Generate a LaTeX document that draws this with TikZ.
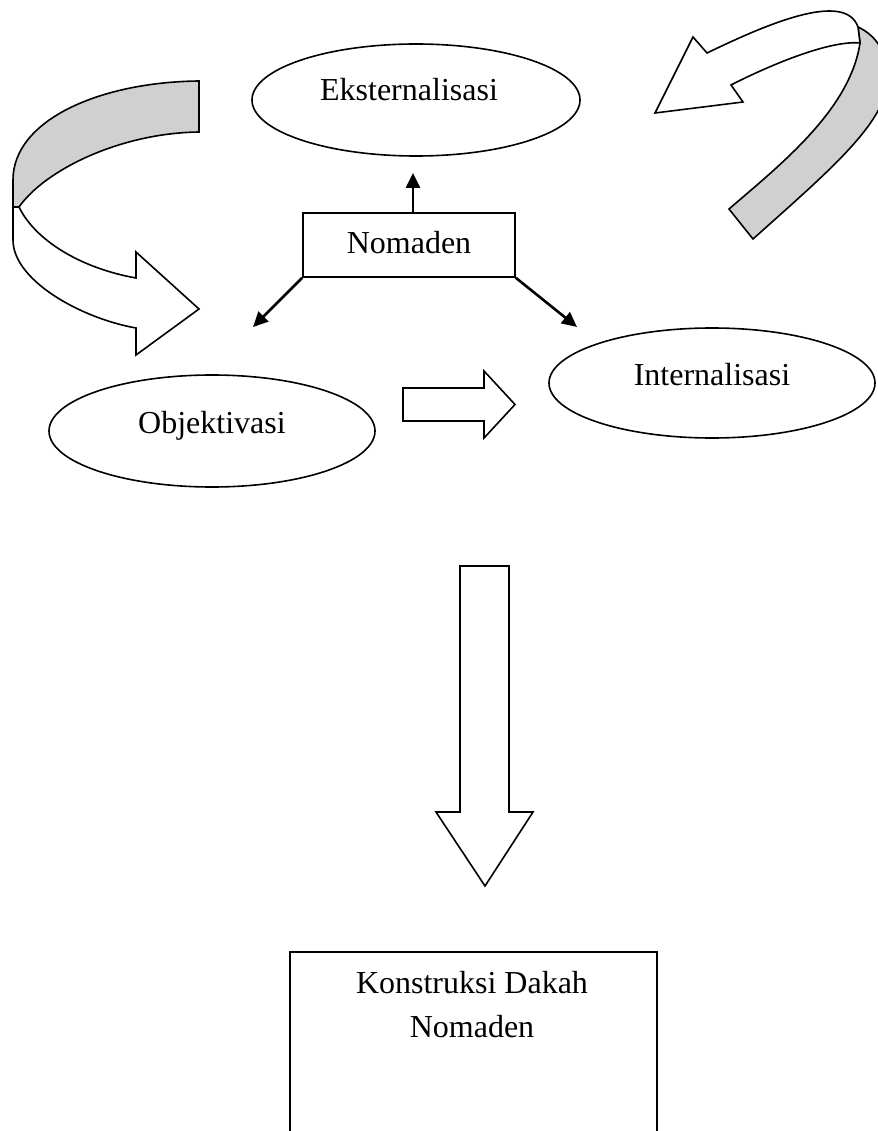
\documentclass[tikz,border=0pt]{standalone}
\usepackage{fontspec}
\setmainfont{Liberation Serif}
\usetikzlibrary{arrows.meta,shapes.geometric}
\definecolor{ink}{HTML}{000000}
\definecolor{soft}{HTML}{D0D0D0}
\tikzset{
  ell/.style={ellipse,draw=ink,line width=1.6pt,inner sep=0pt},
  box/.style={draw=ink,line width=1.6pt,inner sep=0pt,font=\fontsize{32}{44}\selectfont},
  plain/.style={align=center,inner sep=0pt,font=\fontsize{32}{44}\selectfont,text=ink},
  ar/.style={-{Triangle[length=15pt,width=14pt]},draw=ink,line width=2.6pt},
  blk/.style={draw=ink,line width=1.6pt,fill=white,line join=miter},
  rib/.style={blk,fill=soft},
}
\begin{document}
\begin{tikzpicture}[x=1pt,y=-1pt]
  \useasboundingbox (0,0) rectangle (877,1131);
  % the three stages
  \node[ell,minimum width=328pt,minimum height=112pt] (ekst) at (416,100) {};
  \node[ell,minimum width=326pt,minimum height=112pt] (obj) at (212,431) {};
  \node[ell,minimum width=326pt,minimum height=110pt] (intl) at (712,383) {};
  \node[plain,anchor=base] (ekst-t) at (409,101) {Eksternalisasi};
  \node[plain,anchor=base] (obj-t) at (212,433) {Objektivasi};
  \node[plain,anchor=base] (intl-t) at (712,385) {Internalisasi};
  \node[box,minimum width=212pt,minimum height=64pt,text depth=6pt] (nom) at (409,245) {Nomaden};
  \coordinate (tipu) at (413,173);
  \coordinate (tipl) at (253,327);
  \coordinate (tipr) at (577,327);
  \draw[ar] (nom.north -| tipu) -- (tipu);
  \draw[ar] (nom.south west) -- (tipl);
  \draw[ar] (nom.south east) -- (tipr);
  % curved ribbon arrows
  \filldraw[rib] (199,81) .. controls (100,82) and (13,120) .. (13,180) -- (13,207) -- (19,207)
    .. controls (45,170) and (120,133) .. (199,132) -- cycle;
  \filldraw[blk] (13,207) -- (13,240) .. controls (13,280) and (80,318) .. (136,328) -- (136,355)
    -- (199,309) -- (136,252) -- (136,278) .. controls (80,268) and (35,240) .. (19,207) -- cycle;
  \filldraw[rib] (729,209) -- (753,239) .. controls (830,170) and (890,120) .. (888,75)
    .. controls (886,50) and (875,35) .. (858,27) -- (860,43)
    .. controls (850,110) and (780,165) .. (729,209) -- cycle;
  \filldraw[blk] (858,27) .. controls (845,-10) and (765,25) .. (707,53) -- (693,37) -- (655,113)
    -- (743,102) -- (731,85) .. controls (770,65) and (830,40) .. (860,43) -- cycle;
  % block arrows
  \filldraw[blk] (403,388) -- (484,388) -- (484,371) -- (515,404.5) -- (484,438) -- (484,421) -- (403,421) -- cycle;
  \filldraw[blk] (460,566) -- (509,566) -- (509,812) -- (533,812) -- (485,886) -- (436,812) -- (460,812) -- cycle;
  % result
  \node[box,minimum width=367pt,minimum height=230pt,anchor=north] (kons) at (473.5,951) {};
  \node[plain,anchor=north] (kons-t) at (472,971) {Konstruksi Dakah\\Nomaden};
\end{tikzpicture}
\end{document}
